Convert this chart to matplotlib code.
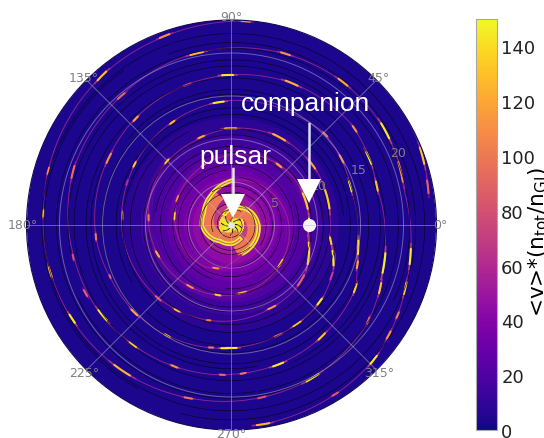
import numpy as np
import matplotlib
matplotlib.use('Agg')
import matplotlib.pyplot as plt

# radii below were read at 8.2 px per unit, the rings in the picture are 8.6 px per unit
R_FIX = 8.2 / 8.6
R_MAX = 205 / 8.6

arm_a_theta = [301, 270, 235, 205, 182, 156, 125, 90, 45, 0, -38, -80, -120, -159, -180, -224, -247, -270, -298, -330, -348,
               -368, -376, -384, -400, -417, -427, -450, -480, -498, -516, -535, -569, -588, -630, -653, -680, -694, -705,
               -734, -742, -755, -782, -804, -810, -823, -846, -869, -885, -903, -916, -924, -949, -970, -993]
arm_a_r = [2.0, 2.3, 2.4, 3.1, 3.6, 3.7, 4.4, 5.4, 6.2, 7.0, 7.6, 8.4, 9.0, 9.7, 10.1, 11.0, 11.2, 11.8, 12.2, 12.3, 12.1,
           12.0, 13.2, 13.6, 14.3, 14.5, 14.6, 15.0, 15.6, 15.9, 16.1, 16.6, 17.1, 17.5, 18.3, 18.8, 19.1, 18.7, 18.3,
           19.1, 19.6, 20.4, 21.1, 21.4, 21.5, 21.7, 22.2, 22.6, 22.8, 23.0, 23.3, 23.5, 24.1, 24.4, 24.9]

arm_b_theta = [120, 63, 31, -2, -34, -67, -90, -104, -122, -188, -206, -244, -270, -308, -343, -365, -380, -400, -424, -450,
               -461, -482, -495, -533, -562, -572, -600, -625, -630, -660, -674, -688, -702, -730, -737, -747, -771, -791,
               -810, -813, -832, -850, -865, -888, -919, -949, -978, -990, -1008, -1028, -1049, -1070, -1091, -1099, -1116,
               -1123, -1138, -1161]
arm_b_r = [1.6, 2.4, 2.9, 3.3, 3.5, 3.7, 4.6, 5.5, 6.0, 7.0, 7.3, 8.0, 8.6, 9.4, 9.6, 9.4, 10.2, 11.0, 11.2, 11.7,
           11.9, 12.3, 12.6, 13.3, 13.7, 13.9, 14.5, 15.1, 15.2, 15.5, 15.9, 15.7, 15.2, 15.5, 16.0, 17.0, 17.5, 17.9,
           18.2, 18.3, 18.6, 18.9, 19.3, 19.6, 20.4, 20.7, 21.4, 21.6, 21.9, 22.1, 22.0, 21.5, 22.2, 22.5, 23.5,
           23.9, 24.2, 24.6]
arm_c_theta = [40, 32, 22, 9]
arm_c_r = [25.0, 25.0, 24.9, 24.3]

# inner swirl, pink band lying inside the yellow edge of each arm
swirl_a_theta = [280, 240, 205, 180, 150, 120]
swirl_a_r = [1.4, 1.7, 2.3, 2.7, 3.0, 3.6]
swirl_b_theta = [100, 60, 30, 0, -35, -70]
swirl_b_r = [1.2, 1.6, 2.2, 2.5, 2.8, 3.1]

# bright knots along the arms: start angle, end angle, start radius, end radius, value
knots = [
    (28, 8, 9.5, 9.5, 135), (8, -8, 9.5, 9.4, 148), (-8, -32, 9.4, 10.7, 140), (-32, -45, 10.7, 11.0, 90),
    (24, 6, 12.2, 12.1, 135), (42, 32, 12.3, 12.3, 120), (68, 55, 12.2, 12.2, 125), (96, 85, 11.8, 11.8, 125),
    (55, 48, 9.3, 9.3, 120), (34, 28, 15.7, 15.6, 110), (22, 14, 15.3, 15.2, 145), (46, 42, 15.9, 15.9, 100),
    (30, 22, 18.7, 18.6, 145), (18, 12, 18.4, 18.3, 130), (40, 36, 19.1, 19.0, 110), (71, 63, 18.8, 18.8, 125),
    (36, 27, 22.1, 21.9, 145), (23, 12, 21.8, 21.5, 110), (55, 49, 22.1, 22.1, 120), (75, 70, 21.9, 21.9, 110),
    (24, 16, 24.9, 24.6, 130), (14, 8, 24.5, 24.3, 90),
    (-6, -12, 12.0, 12.5, 135), (-12, -24, 12.5, 13.6, 148), (-24, -30, 13.6, 13.8, 70),
    (-38, -44, 14.2, 14.3, 145), (-53, -60, 14.5, 14.5, 135), (-64, -70, 14.6, 14.6, 90), (-86, -94, 15.0, 15.0, 145),
    (-32, -44, 7.5, 7.7, 135), (-76, -86, 8.3, 8.4, 125), (-60, -68, 11.2, 11.2, 110),
    (-5, -15, 15.5, 15.9, 140), (-15, -20, 16.0, 16.2, 120), (-24, -30, 16.8, 17.1, 135), (-48, -54, 17.4, 17.6, 130),
    (-68, -75, 17.9, 18.0, 145), (-84, -87, 18.1, 18.2, 100),
    (-8, -20, 19.0, 19.4, 148), (-20, -26, 19.5, 19.9, 130), (-33, -37, 20.2, 20.5, 90), (-58, -66, 21.0, 21.2, 140),
    (-78, -82, 21.3, 21.4, 80),
    (-6, -14, 22.0, 22.3, 145), (-17, -23, 22.4, 22.7, 135), (-27, -30, 23.0, 23.1, 100), (-33, -37, 23.3, 23.5, 110),
    (-41, -46, 23.8, 24.0, 145), (-57, -60, 24.2, 24.2, 85), (-78, -84, 24.6, 24.6, 125),
    (213, 208, 22.5, 22.6, 145), (238, 228, 22.1, 22.3, 125), (258, 254, 21.7, 21.8, 100), (197, 192, 22.8, 22.9, 125),
    (178, 175, 23.0, 23.0, 130),
    (219, 211, 19.1, 19.3, 145), (233, 228, 18.9, 19.0, 135), (250, 246, 18.6, 18.6, 110), (268, 265, 18.3, 18.3, 95),
    (207, 203, 19.6, 19.7, 90), (193, 190, 19.7, 19.7, 80),
    (225, 219, 15.9, 16.0, 120), (242, 238, 15.6, 15.6, 125), (262, 259, 15.1, 15.2, 100), (270, 264, 15.0, 15.1, 145),
    (204, 202, 16.1, 16.1, 90), (187, 183, 16.6, 16.6, 100),
    (228, 222, 12.6, 12.7, 85), (240, 235, 12.3, 12.4, 130), (258, 255, 11.9, 12.0, 100),
    (240, 232, 9.0, 9.1, 110), (262, 256, 8.7, 8.7, 135), (205, 198, 9.6, 9.8, 125), (255, 245, 5.5, 5.7, 110),
    (134, 128, 24.0, 24.2, 130), (112, 107, 24.4, 24.5, 110), (165, 162, 23.3, 23.3, 110),
    (165, 158, 20.3, 20.5, 95), (133, 128, 20.7, 20.7, 90), (105, 98, 21.3, 21.4, 125),
    (155, 148, 17.0, 17.1, 110), (134, 130, 17.4, 17.5, 120), (110, 105, 17.9, 18.0, 70), (95, 88, 18.3, 18.3, 145),
    (150, 146, 13.9, 14.0, 135), (122, 118, 14.4, 14.5, 125), (100, 92, 15.0, 15.1, 145), (178, 172, 13.3, 13.4, 100),
    (160, 156, 13.7, 13.8, 60),
    (138, 133, 11.0, 11.1, 135), (112, 106, 11.3, 11.4, 120), (178, 172, 10.1, 10.2, 100),
    (176, 166, 7.0, 7.1, 140), (158, 150, 7.3, 7.4, 110), (118, 113, 8.0, 8.1, 100), (88, 84, 24.9, 24.9, 110),
]

# radial level of the field behind the arms
bg_r = [0, 0.9, 1.5, 2.5, 3.5, 4.5, 5.5, 6.5, 7.5, 9, 10.5, 12.5, R_MAX]
bg_values = [145, 140, 70, 52, 44, 38, 32, 26, 20, 14, 8, 3]

# black field lines: start angle, start radius, end radius
stream_t0 = [40, 200, 310, 120, 80, 250, 20, 170, 300, 100, 350, 210, 60, 140, 280, 30, 190, 320, 110, 240]
stream_r0 = [1.2, 2.4, 3.5, 4.7, 5.9, 7.0, 8.2, 9.4, 10.5, 11.7, 12.9, 14.0, 15.2, 16.4, 17.5, 18.7, 19.9, 21.0, 22.2, 23.0]
stream_r1 = [2.0, 3.2, 4.3, 5.5, 6.7, 7.8, 9.0, 10.2, 11.3, 12.5, 13.7, 14.8, 16.0, 17.2, 18.3, 19.5, 20.7, 21.8, 23.0, 23.8]

spoke_theta = [10, 55, 100, 150, 195, 240, 290, 335]

cbar_ticks = [0, 20, 40, 60, 80, 100, 120, 140]
grid_r = [5, 10, 15, 20]
grid_theta = [0, 45, 90, 135, 180, 225, 270, 315]

W, H = 544, 439
cmap = plt.get_cmap('plasma')
norm = plt.Normalize(0, 150)

fig = plt.figure(figsize=(W / 100, H / 100), dpi=100)
ax = fig.add_axes([26 / W, 1 - 431 / H, 411 / W, 410 / H], projection='polar')
ax.set_autoscale_on(False)


def curve(theta, r, steps=16, **kw):
    line, = ax.plot(np.radians(theta), np.asarray(r) * R_FIX, **kw)
    line.get_path()._interpolation_steps = steps
    return line


theta_edges = np.linspace(0, 2 * np.pi, 181)
field = np.tile(np.array(bg_values)[:, None], (1, 180))
ax.pcolormesh(theta_edges, bg_r, field, cmap=cmap, norm=norm, zorder=1)

# purple wake round the inner turns, orange and yellow swirl in the middle
curve(arm_a_theta[:16], arm_a_r[:16], lw=6, color=cmap(norm(50)), alpha=0.18, zorder=1.1)
curve(arm_b_theta[:15], arm_b_r[:15], lw=6, color=cmap(norm(50)), alpha=0.18, zorder=1.1)
curve(swirl_a_theta, swirl_a_r, lw=7, color=cmap(norm(100)), zorder=1.2)
curve(swirl_b_theta, swirl_b_r, lw=7, color=cmap(norm(100)), zorder=1.2)
curve(arm_a_theta[:8], arm_a_r[:8], lw=3.2, color=cmap(norm(145)), zorder=1.3)
curve(arm_b_theta[:6], arm_b_r[:6], lw=3.2, color=cmap(norm(145)), zorder=1.3)

for t, r in [(arm_a_theta, arm_a_r), (arm_b_theta, arm_b_r), (arm_c_theta, arm_c_r)]:
    curve(t, r, lw=0.7, color=cmap(norm(60)), alpha=0.75, zorder=1.4)

for t0, t1, r0, r1, v in knots:
    curve([t0, t1], [r0, r1], lw=1.2, color=cmap(norm(v * 0.5)), alpha=0.8, zorder=1.5)
    # the bright core only covers the middle of the knot so its ends fade
    dt, dr = 0.2 * (t1 - t0), 0.2 * (r1 - r0)
    curve([t0 + dt, t1 - dt], [r0 + dr, r1 - dr], lw=1.5, color=cmap(norm(v)), zorder=1.6, solid_capstyle='round')

for t0, r0, r1 in zip(stream_t0, stream_r0, stream_r1):
    curve([t0, t0 - 345], [r0, r1], steps=180, lw=0.4, color='#05051a', zorder=2)
for t in spoke_theta:
    curve([t, t - 25], [0.45, 1.25], lw=0.6, color='black', zorder=2)

ax.set_xlim(0, 2 * np.pi)
ax.set_ylim(0, R_MAX)
ax.set_axisbelow(False)
ax.set_rgrids(grid_r, labels=[str(v) for v in grid_r], angle=22.5, color='#808080', fontsize=9)
ax.set_thetagrids(grid_theta, labels=[f'{v}°' for v in grid_theta], color='#808080', fontsize=9)
ax.tick_params(axis='x', pad=-8)
ax.grid(True, color='#b9b9cf', lw=0.7, alpha=0.5)
ax.spines['polar'].set_color('#120a50')
ax.spines['polar'].set_linewidth(0.8)

# companion and pulsar marks
ax.scatter(0, 9.4 * R_FIX, s=70, color='#f4f4f4', zorder=2.2, clip_on=False)
ax.scatter(0, 0, s=14, color='#e8e8e8', zorder=6)
ax.plot(np.radians([52.3, 23.6]), [15.56 * R_FIX, 10.37 * R_FIX], color='#dcdcf0', lw=1.8, zorder=7)
ax.plot(np.radians([23.6]), [10.37 * R_FIX], marker='v', ms=17, color='white', mew=0, zorder=8)
ax.plot(np.radians([88, 84]), [6.83 * R_FIX, 2.3 * R_FIX], color='#e8e8f4', lw=1.8, zorder=7)
ax.plot(np.radians([84]), [2.3 * R_FIX], marker='v', ms=17, color='white', mew=0, zorder=8)
ax.text(np.radians(58.8), 17.4 * R_FIX, 'companion', color='white', fontsize=19, family='Liberation Sans',
        ha='center', va='center', zorder=9)
ax.text(np.radians(86.7), 8.43 * R_FIX, 'pulsar', color='white', fontsize=19, family='Liberation Sans',
        ha='center', va='center', zorder=9)

cax = fig.add_axes([476 / W, 1 - 431 / H, 21 / W, 411 / H])
cbar = fig.colorbar(plt.cm.ScalarMappable(norm=norm, cmap=cmap), cax=cax)
cbar.set_ticks(cbar_ticks)
cbar.ax.tick_params(labelsize=13, length=0, pad=3, labelcolor='#222222')
cbar.outline.set_edgecolor('#a8a8a8')
fig.text(526 / W, 1 - 242 / H, r'<v>*(n$_{\mathregular{tot}}$/n$_{\mathregular{GJ}}$)', rotation=90,
         fontsize=15.5, color='black', ha='left', va='center')

fig.savefig('out.png', dpi=100)
